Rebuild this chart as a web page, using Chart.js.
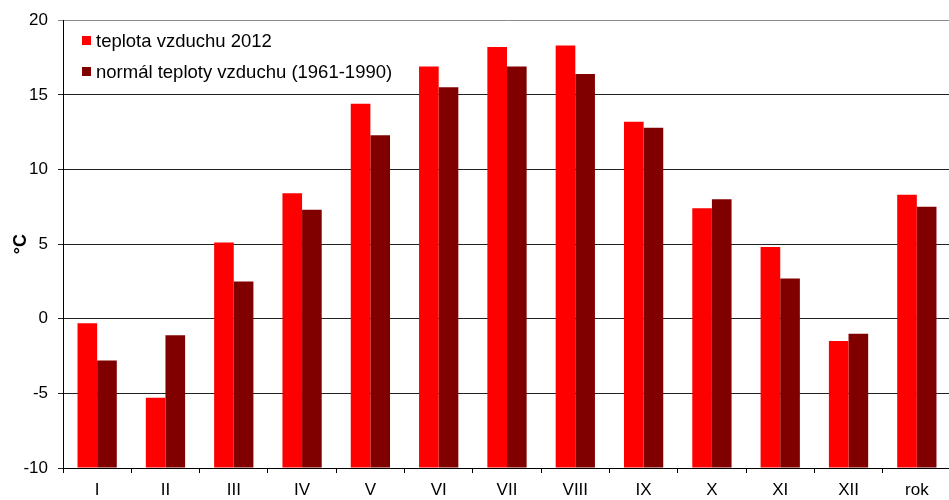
<!DOCTYPE html>
<html>
<head>
<meta charset="utf-8">
<script src="https://cdn.jsdelivr.net/npm/chart.js@4/dist/chart.umd.min.js"></script>
<style>
  html, body { margin: 0; padding: 0; background: #fff; overflow: hidden; }
  #wrap { width: 952px; height: 500px; position: relative; }
</style>
</head>
<body>
<div id="wrap"><canvas id="c" width="952" height="500"></canvas></div>
<script>
const categories = ['I','II','III','IV','V','VI','VII','VIII','IX','X','XI','XII','rok'];
const temp2012 = [-0.3, -5.3, 5.1, 8.4, 14.4, 16.9, 18.2, 18.3, 13.2, 7.4, 4.8, -1.5, 8.3];
const normal6190 = [-2.8, -1.1, 2.5, 7.3, 12.3, 15.5, 16.9, 16.4, 12.8, 8.0, 2.7, -1.0, 7.5];
const yTicks = [-10, -5, 0, 5, 10, 15, 20];
const seriesLabels = ['teplota vzduchu 2012', 'normál teploty vzduchu (1961-1990)'];
const yTitle = '°C';

const FONT = 'Arial, "Liberation Sans", sans-serif';

const legendPlugin = {
  id: 'innerLegend',
  afterDraw(chart) {
    const ctx = chart.ctx;
    ctx.save();
    ctx.font = '18.5px ' + FONT;
    ctx.textBaseline = 'middle';
    ctx.textAlign = 'left';
    const rows = [40.5, 71.5];
    chart.data.datasets.forEach((ds, i) => {
      ctx.fillStyle = ds.backgroundColor;
      ctx.fillRect(82, rows[i] - 4.5, 9, 9);
      ctx.fillStyle = '#000';
      ctx.fillText(ds.label, 96, rows[i] + 1);
    });
    ctx.restore();
  }
};

new Chart(document.getElementById('c'), {
  type: 'bar',
  data: {
    labels: categories,
    datasets: [
      { label: seriesLabels[0], data: temp2012, backgroundColor: '#FF0000', base: -10,
        barPercentage: 1.0, categoryPercentage: 0.575 },
      { label: seriesLabels[1], data: normal6190, backgroundColor: '#800000', base: -10,
        barPercentage: 1.0, categoryPercentage: 0.575 }
    ]
  },
  options: {
    responsive: false,
    animation: false,
    devicePixelRatio: 1,
    layout: { padding: { top: 18, right: 1, left: 0, bottom: 0 } },
    plugins: { legend: { display: false }, tooltip: { enabled: false }, title: { display: false } },
    scales: {
      x: {
        offset: true,
        grid: { offset: true, drawOnChartArea: false, drawTicks: true, tickLength: 5, color: '#000' },
        border: { color: '#000', width: 1 },
        ticks: { color: '#000', font: { family: FONT, size: 17 }, padding: 7, maxRotation: 0 },
        afterFit(s) { s.height = 32; }
      },
      y: {
        min: -10, max: 20,
        afterBuildTicks(s) { s.ticks = yTicks.map(v => ({ value: v })); },
        grid: {
          color: (c) => (c.tick && c.tick.value === 20) ? '#8a8a8a' : '#222',
          lineWidth: 1, tickLength: 5, drawTicks: true
        },
        border: { color: '#000', width: 1 },
        ticks: { color: '#000', font: { family: FONT, size: 17 }, padding: 10 },
        title: { display: true, text: yTitle, color: '#000', font: { family: FONT, size: 18, weight: 'bold' }, padding: { top: 10, bottom: 0 } },
        afterFit(s) { s.width = 63; }
      }
    }
  },
  plugins: [legendPlugin]
});
</script>
</body>
</html>
